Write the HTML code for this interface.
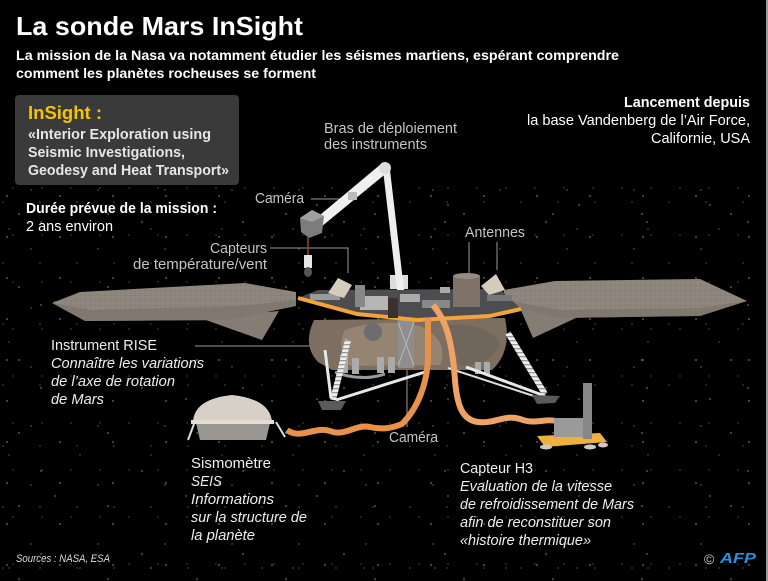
<!DOCTYPE html>
<html><head><meta charset="utf-8"><style>
html,body{margin:0;padding:0;background:#000;}
#c{position:relative;width:768px;height:581px;overflow:hidden;background:#000;}
#stars{position:absolute;left:0;top:185px;width:766px;height:396px;
background:
radial-gradient(circle at 7px 11px,rgba(140,140,140,.6) 0.7px,transparent 1.3px) 0 0/53px 41px,
radial-gradient(circle at 31px 5px,rgba(120,120,120,.55) 0.6px,transparent 1.2px) 0 0/67px 59px,
radial-gradient(circle at 19px 29px,rgba(160,160,160,.5) 0.7px,transparent 1.3px) 0 0/89px 73px,
radial-gradient(circle at 3px 17px,rgba(110,110,110,.55) 0.6px,transparent 1.1px) 0 0/37px 61px,
radial-gradient(circle at 41px 37px,rgba(130,130,130,.5) 0.8px,transparent 1.4px) 0 0/101px 83px,
radial-gradient(circle at 13px 3px,rgba(100,100,100,.55) 0.6px,transparent 1.1px) 0 0/29px 47px,
radial-gradient(circle at 55px 20px,rgba(150,150,150,.5) 0.7px,transparent 1.3px) 0 0/131px 97px,
radial-gradient(circle at 9px 44px,rgba(120,120,120,.5) 0.6px,transparent 1.2px) 0 0/71px 113px;}
#edge{position:absolute;left:766px;top:0;width:2px;height:581px;background:#9a9a9a;}
svg{position:absolute;left:0;top:0;}
text{font-family:"Liberation Sans",sans-serif;}
</style></head><body><div id="c">
<div id="stars"></div>
<div id="edge"></div>
<svg width="768" height="581" viewBox="0 0 768 581" xmlns="http://www.w3.org/2000/svg">
<defs>
<pattern id="grid" width="5" height="5" patternUnits="userSpaceOnUse">
<rect width="5" height="5" fill="#8f877d"/>
<path d="M0 0H5M0 0V5" stroke="#7d756c" stroke-width="0.6"/>
</pattern>
<pattern id="stripe" width="4" height="4" patternUnits="userSpaceOnUse">
<rect width="4" height="4" fill="#eee"/><rect width="4" height="1.3" fill="#999"/>
</pattern>
</defs>

<!-- pointer lines -->
<g stroke="#9a9a9a" stroke-width="1" fill="none">
<path d="M311 199H352"/>
<path d="M270 248H348V273"/>
<path d="M469 242V275M497 242V270"/>
<path d="M195 346H320"/>
<path d="M407 358V427"/>
</g>

<!-- left solar panel -->
<polygon points="200,318 262,340 279,311" fill="#857d73"/>
<polygon points="52,303 80,292 245,283 296,292 296,306 262,313 230,320 85,321" fill="url(#grid)"/>
<polygon points="52,303 85,321 230,320 262,313 296,306 296,300 240,306 90,310" fill="#7a7269" opacity="0.7"/>

<!-- right solar panel -->
<polygon points="520,308 533,338 578,317" fill="#857d73"/>
<polygon points="504,290 555,281 700,279 747,301 700,316 560,318 504,305" fill="url(#grid)"/>
<polygon points="504,300 560,310 700,308 747,301 700,316 560,318 504,305" fill="#7a7269" opacity="0.7"/>

<!-- body -->
<path d="M314 320 Q302 345 318 362 L332 370 L492 370 Q512 352 505 318 Z" fill="#7c6e60"/>
<path d="M345 330 Q380 318 420 326 Q450 340 440 365 L350 366 Q335 350 345 330Z" fill="#9b8a76" opacity="0.8"/>
<path d="M445 325 Q490 322 500 345 Q490 365 460 366 Z" fill="#6e645b" opacity="0.8"/>
<rect x="398" y="320" width="16" height="48" fill="#8e8e8e"/>
<path d="M398 322L414 366M414 322L398 366" stroke="#bbb" stroke-width="1"/>
<circle cx="373" cy="332" r="9" fill="#6d6d6d"/>
<g fill="#aaa">
<rect x="340" y="355" width="8" height="18"/><rect x="352" y="358" width="7" height="16"/>
<rect x="377" y="357" width="7" height="16"/><rect x="388" y="357" width="7" height="16"/>
<rect x="475" y="362" width="6" height="12"/><rect x="484" y="362" width="6" height="12"/>
</g>
<path d="M335 372 Q360 382 385 374" stroke="#999" stroke-width="3" fill="none"/>

<!-- legs -->
<line x1="348" y1="340" x2="333" y2="400" stroke="url(#stripe)" stroke-width="6"/>
<line x1="325" y1="350" x2="331" y2="398" stroke="#e8e8e8" stroke-width="3"/>
<line x1="336" y1="400" x2="425" y2="372" stroke="#e8e8e8" stroke-width="3"/>
<polygon points="318,401 346,401 341,410 322,410" fill="#5a5a5a"/>
<line x1="508" y1="333" x2="545" y2="394" stroke="url(#stripe)" stroke-width="6"/>
<line x1="466" y1="367" x2="545" y2="396" stroke="#e8e8e8" stroke-width="3"/>
<line x1="448" y1="368" x2="540" y2="398" stroke="#ddd" stroke-width="2"/>
<polygon points="532,395 560,396 555,403 537,404" fill="#5a5a5a"/>

<!-- deck -->
<polygon points="298,298 318,290 500,289 521,309 490,316 417,320 357,314" fill="#4d4d4f"/>
<polyline points="298,298 357,314 417,320 490,316 521,309" fill="none" stroke="#f2a33a" stroke-width="4"/>
<g fill="#9a9a9a">
<rect x="360" y="296" width="28" height="14" fill="#b5b5b5"/>
<rect x="355" y="285" width="10" height="22" fill="#888"/>
<rect x="310" y="294" width="30" height="6"/>
<rect x="400" y="294" width="20" height="8" fill="#aaa"/>
<rect x="388" y="298" width="10" height="20" fill="#3a3030"/>
<rect x="422" y="300" width="28" height="8" fill="#888"/>
<rect x="440" y="287" width="10" height="6" fill="#aaa"/>
<rect x="487" y="295" width="25" height="6" fill="#777"/>
</g>
<rect x="390" y="275" width="18" height="14" fill="#ddd"/>

<!-- antenna cylinder & cones -->
<rect x="453" y="276" width="27" height="31" fill="#7d7168"/>
<ellipse cx="466.5" cy="276" rx="13.5" ry="3" fill="#978a80"/>
<polygon points="328,293 338,278 352,285 344,298" fill="#d6ccbc"/>
<polygon points="481,286 496,274 505,290 489,295" fill="#d6ccbc"/>

<!-- arm -->
<polygon points="397,290 404,290 390,170 383,170" fill="#eeeeee"/>
<polygon points="381,164 389,171 321,227 314,220" fill="#f0f0f0"/>
<circle cx="385" cy="168" r="6" fill="#ddd"/>
<rect x="348" y="192" width="9" height="8" fill="#bbb"/>
<polygon points="300,218 312,210 324,216 322,233 309,238 301,232" fill="#7c7c7c"/>
<polygon points="300,218 312,210 324,216 312,222" fill="#a0a0a0"/>
<line x1="308" y1="236" x2="308" y2="256" stroke="#8a5030" stroke-width="1.5"/>
<rect x="304" y="255" width="8" height="13" fill="#e6e6e6"/>
<ellipse cx="308" cy="272" rx="4" ry="5" fill="#555"/>

<!-- tethers -->
<path d="M287 430 C300 440 315 426 330 431 C345 437 355 424 370 427 C383 430 392 428 402 424 C418 408 428 382 428 355 L428 318" fill="none" stroke="#e8914a" stroke-width="6"/>
<path d="M433 305 C446 320 452 340 455 380 C457 405 462 420 478 422 C495 424 505 414 520 419 C535 425 545 418 556 421" fill="none" stroke="#efa266" stroke-width="6"/>

<!-- seismometer -->
<path d="M193 422 Q194 399 232 395 Q270 399 272 422 Z" fill="#d7d0c6"/>
<path d="M196 423 L270 423 L266 440 L200 440 Z" fill="#9a9692"/>
<rect x="191" y="420" width="83" height="4" fill="#e4ddd2"/>
<path d="M194 424 L188 440 M276 422 L285 437" stroke="#ddd" stroke-width="2"/>

<!-- H3 -->
<polygon points="537,436 600,433 607,442 545,447" fill="#f0b040"/>
<rect x="554" y="418" width="30" height="19" fill="#9a9a9a"/>
<rect x="583" y="383" width="9" height="56" fill="#888"/>
<ellipse cx="546" cy="447" rx="6" ry="2.5" fill="#cfc8bd"/>
<ellipse cx="590" cy="447" rx="6" ry="2.5" fill="#cfc8bd"/>
<ellipse cx="603" cy="445" rx="5" ry="2.5" fill="#cfc8bd"/>

<!-- text -->
<text x="16" y="35" font-size="26" font-weight="bold" fill="#fff" textLength="287" lengthAdjust="spacingAndGlyphs">La sonde Mars InSight</text>
<text x="16" y="60" font-size="14" font-weight="bold" fill="#fff" textLength="603" lengthAdjust="spacingAndGlyphs">La mission de la Nasa va notamment étudier les séismes martiens, espérant comprendre</text>
<text x="16" y="78" font-size="14" font-weight="bold" fill="#fff" textLength="300" lengthAdjust="spacingAndGlyphs">comment les planètes rocheuses se forment</text>

<rect x="15" y="95" width="224" height="90" rx="4" fill="#3a3a3a"/>
<text x="28" y="119" font-size="18" font-weight="bold" fill="#f5c400" textLength="74" lengthAdjust="spacingAndGlyphs">InSight :</text>
<text x="28" y="139" font-size="15" font-weight="bold" fill="#e6e6e6" textLength="183" lengthAdjust="spacingAndGlyphs">«Interior Exploration using</text>
<text x="28" y="157" font-size="15" font-weight="bold" fill="#e6e6e6" textLength="157" lengthAdjust="spacingAndGlyphs">Seismic Investigations,</text>
<text x="28" y="175" font-size="15" font-weight="bold" fill="#e6e6e6" textLength="201" lengthAdjust="spacingAndGlyphs">Geodesy and Heat Transport»</text>

<text x="26" y="213" font-size="15" font-weight="bold" fill="#fff" textLength="191" lengthAdjust="spacingAndGlyphs">Durée prévue de la mission :</text>
<text x="26" y="231" font-size="15" fill="#fff" textLength="87" lengthAdjust="spacingAndGlyphs">2 ans environ</text>

<text x="624" y="107" font-size="15" font-weight="bold" fill="#fff" textLength="126" lengthAdjust="spacingAndGlyphs">Lancement depuis</text>
<text x="527" y="125" font-size="15" fill="#fff" textLength="223" lengthAdjust="spacingAndGlyphs">la base Vandenberg de l’Air Force,</text>
<text x="651" y="143" font-size="15" fill="#fff" textLength="99" lengthAdjust="spacingAndGlyphs">Californie, USA</text>

<g fill="#c4c4c4" font-size="15">
<text x="324" y="133" textLength="133" lengthAdjust="spacingAndGlyphs">Bras de déploiement</text>
<text x="324" y="149" textLength="103" lengthAdjust="spacingAndGlyphs">des instruments</text>
<text x="255" y="203" textLength="49" lengthAdjust="spacingAndGlyphs">Caméra</text>
<text x="210" y="253" textLength="57" lengthAdjust="spacingAndGlyphs">Capteurs</text>
<text x="133" y="269" textLength="134" lengthAdjust="spacingAndGlyphs">de température/vent</text>
<text x="465" y="237" textLength="60" lengthAdjust="spacingAndGlyphs">Antennes</text>
<text x="389" y="442" textLength="49" lengthAdjust="spacingAndGlyphs">Caméra</text>
</g>

<g fill="#eeeeee" font-size="15">
<text x="51" y="350" textLength="106" lengthAdjust="spacingAndGlyphs">Instrument RISE</text>
<text x="51" y="368" font-style="italic" textLength="153" lengthAdjust="spacingAndGlyphs">Connaître les variations</text>
<text x="51" y="386" font-style="italic" textLength="124" lengthAdjust="spacingAndGlyphs">de l’axe de rotation</text>
<text x="51" y="404" font-style="italic" textLength="53" lengthAdjust="spacingAndGlyphs">de Mars</text>

<text x="191" y="468" textLength="80" lengthAdjust="spacingAndGlyphs">Sismomètre</text>
<text x="191" y="486" font-style="italic" textLength="31" lengthAdjust="spacingAndGlyphs">SEIS</text>
<text x="191" y="504" font-style="italic" textLength="83" lengthAdjust="spacingAndGlyphs">Informations</text>
<text x="191" y="522" font-style="italic" textLength="116" lengthAdjust="spacingAndGlyphs">sur la structure de</text>
<text x="191" y="540" font-style="italic" textLength="64" lengthAdjust="spacingAndGlyphs">la planète</text>

<text x="460" y="473" textLength="73" lengthAdjust="spacingAndGlyphs">Capteur H3</text>
<text x="460" y="491" font-style="italic" textLength="152" lengthAdjust="spacingAndGlyphs">Evaluation de la vitesse</text>
<text x="460" y="509" font-style="italic" textLength="174" lengthAdjust="spacingAndGlyphs">de refroidissement de Mars</text>
<text x="460" y="527" font-style="italic" textLength="151" lengthAdjust="spacingAndGlyphs">afin de reconstituer son</text>
<text x="460" y="545" font-style="italic" textLength="131" lengthAdjust="spacingAndGlyphs">«histoire thermique»</text>
</g>

<text x="16" y="562" font-size="11" font-style="italic" fill="#ddd" textLength="94" lengthAdjust="spacingAndGlyphs">Sources : NASA, ESA</text>
<text x="704" y="564" font-size="14" fill="#ccc">©</text>
<text x="720" y="563" font-size="15" font-weight="bold" font-style="italic" fill="#2a8fd8" textLength="36" lengthAdjust="spacingAndGlyphs">AFP</text>
</svg>
</div></body></html>
